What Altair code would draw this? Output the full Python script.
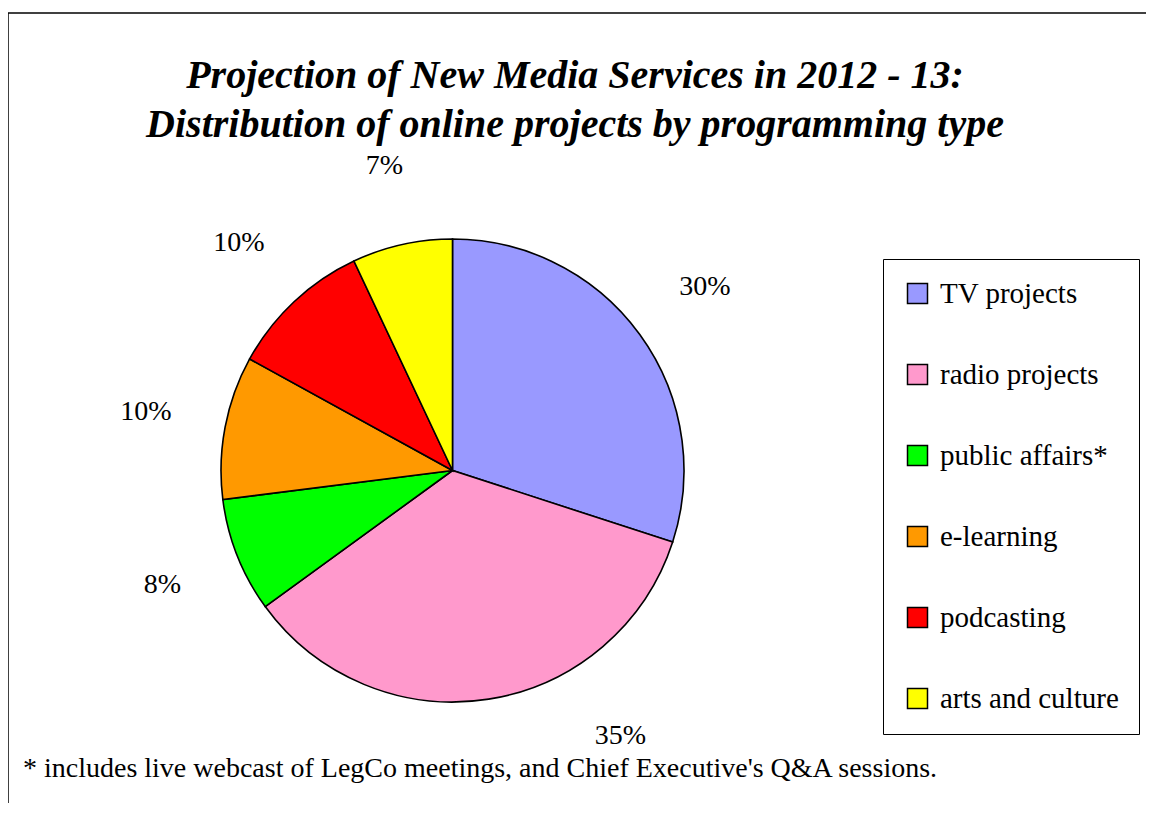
import altair as alt
import pandas as pd

categories = ["TV projects", "radio projects", "public affairs*", "e-learning", "podcasting", "arts and culture"]
values = [30, 35, 8, 10, 10, 7]
labels = ["30%", "35%", "8%", "10%", "10%", "7%"]
colors = ["#9999FF", "#FF99CC", "#00FF00", "#FF9900", "#FF0000", "#FFFF00"]
title_lines = ["Projection of New Media Services in 2012 - 13:",
               "Distribution of online projects by programming type"]
footnote = "* includes live webcast of LegCo meetings, and Chief Executive's Q&A sessions."

df = pd.DataFrame({"category": categories, "value": values, "label": labels,
                   "order": list(range(len(categories)))})
total = sum(values)

W, H = 1138, 790
CX, CY = 444.5, 457.5
R = 231.5
LR = 312
FONT = "Liberation Serif"

color_scale = alt.Scale(domain=categories, range=colors)

base = alt.Chart(df)

pie = base.mark_arc(outerRadius=R, stroke="black", strokeWidth=1.6).encode(
    theta=alt.Theta("value:Q", stack=True, scale=alt.Scale(domain=[0, total])),
    order=alt.Order("order:Q"),
    color=alt.Color("category:N", scale=color_scale, sort=categories,
                    legend=alt.Legend(title=None, orient="none", legendX=875, legendY=246,
                                      direction="vertical", symbolType="square", symbolSize=400,
                                      symbolStrokeColor="black", symbolStrokeWidth=1.5,
                                      labelFont=FONT, labelFontSize=29, labelColor="black",
                                      labelOffset=8, rowPadding=51, padding=20,
                                      strokeColor="black", labelLimit=500)),
    x=alt.value(CX), y=alt.value(CY),
)

lab_base = base.transform_window(
    cum="sum(value)", sort=[alt.SortField("order")]
).transform_calculate(mid="datum.cum - datum.value / 2")

lab_other = lab_base.transform_filter(alt.datum.category != "radio projects").mark_text(
    radius=LR, font=FONT, fontSize=28, color="black", align="center", baseline="middle"
).encode(
    theta=alt.Theta("mid:Q", stack=None, scale=alt.Scale(domain=[0, total])),
    text="label:N", x=alt.value(CX), y=alt.value(CY),
)

lab_radio = lab_base.transform_filter(alt.datum.category == "radio projects").mark_text(
    radius=LR, font=FONT, fontSize=28, color="black", align="center", baseline="middle",
    dx=119, dy=-43
).encode(
    theta=alt.Theta("mid:Q", stack=None, scale=alt.Scale(domain=[0, total])),
    text="label:N", x=alt.value(CX), y=alt.value(CY),
)

one = alt.Chart(pd.DataFrame({"k": [0]}))

title = one.mark_text(font=FONT, fontSize=40, fontWeight="bold", fontStyle="italic",
                      color="black", align="center", baseline="alphabetic", lineHeight=49).encode(
    text=alt.value(title_lines), x=alt.value(567), y=alt.value(75))

foot = one.mark_text(font=FONT, fontSize=28, color="black", align="left",
                     baseline="alphabetic").encode(
    text=alt.value(footnote), x=alt.value(15), y=alt.value(764))

top_rule = one.mark_rule(color="black", strokeWidth=1.5).encode(
    x=alt.value(0), x2=alt.value(W), y=alt.value(0))
left_rule = one.mark_rule(color="black", strokeWidth=1.5).encode(
    x=alt.value(0), y=alt.value(0), y2=alt.value(H))

chart = alt.layer(pie, lab_other, lab_radio, title, foot, top_rule, left_rule).resolve_scale(
    theta="independent"
).properties(
    width=W, height=H, autosize=alt.AutoSizeParams(type="none"),
    padding={"left": 0, "top": 5, "right": 0, "bottom": 0},
    background="white",
).configure_view(stroke=None)

chart.save("out.html", embed_options={"renderer": "svg", "actions": False})
